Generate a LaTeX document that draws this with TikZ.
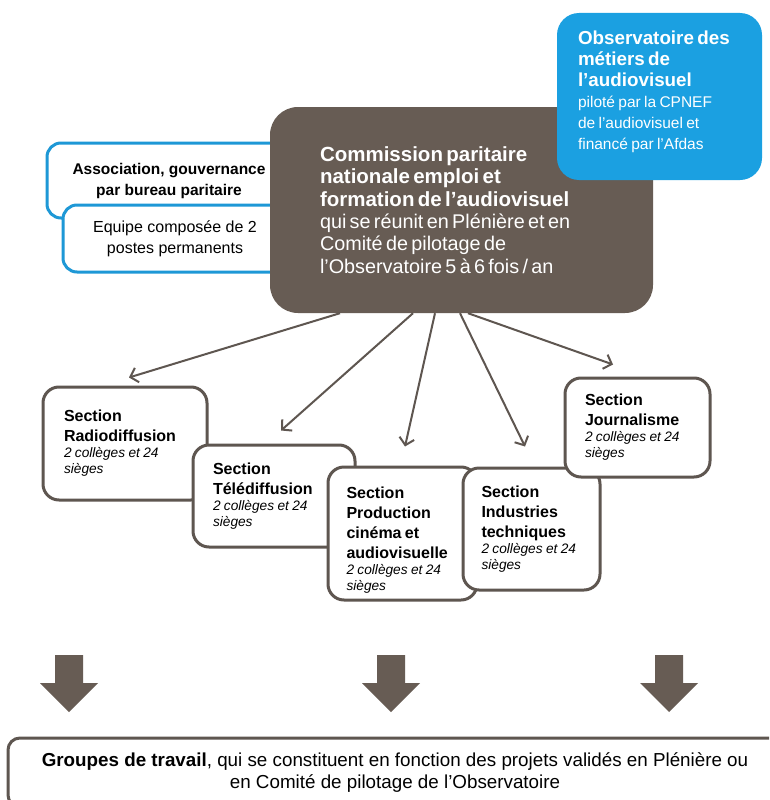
\documentclass[tikz,border=0pt]{standalone}
\usepackage{fontspec}
\setmainfont{Liberation Sans}
\usetikzlibrary{positioning, shapes, arrows.meta}

\definecolor{cpbrown}{HTML}{675C54}
\definecolor{obsblue}{HTML}{1BA0E1}
\definecolor{lineblue}{HTML}{1E98D6}
\definecolor{secgray}{HTML}{5E5650}

\newcommand{\secname}[1]{{\bfseries\fontsize{16}{20}\selectfont Section\par #1\par}}
\newcommand{\secseats}{{\itshape\fontsize{13.7}{16}\selectfont 2 collèges et 24\par sièges\par}}

\begin{document}
\begin{tikzpicture}[x=1pt, y=-1pt]

\useasboundingbox (0,0) rectangle (769,800);
\clip (0,0) rectangle (769,800);
\fill[white] (0,0) rectangle (769,800);

\tikzstyle{bluebox}=[draw=lineblue, line width=3pt, fill=white, rounded corners=14pt,
align=center, inner sep=0pt];
\tikzstyle{secbox}=[draw=secgray, line width=3pt, fill=white, rounded corners=16pt,
align=left, inner sep=0pt, execute at begin node=\parindent0pt];
\tikzstyle{thinarrow}=[draw=secgray, line width=2pt, -{Straight Barb[length=7pt,width=15pt]}];

% left boxes
\node[bluebox, minimum width=244pt, minimum height=75pt, font=\bfseries\fontsize{15.5}{21}\selectfont] (assoc) at (169,180.5) {Association, gouvernance\\par bureau paritaire};
\node[bluebox, minimum width=224pt, minimum height=67pt, font=\fontsize{16}{21}\selectfont] (equipe) at (175,238.5) {Equipe composée de 2\\postes permanents};

% CPNEF and observatoire
\node[fill=cpbrown, rounded corners=28pt, minimum width=383pt, minimum height=206pt, text width=283pt,
inner sep=0pt, align=left, text=white, execute at begin node=\parindent0pt] (cpnef) at (461.5,210)
{{\bfseries\fontsize{20.5}{22.4}\selectfont Commission paritaire\par nationale emploi et\par formation de l’audiovisuel\par}%
\fontsize{19.8}{22.4}\selectfont qui se réunit en Plénière et en\par Comité de pilotage de\par l'Observatoire 5 à 6 fois / an\par};
\node[fill=obsblue, rounded corners=22pt, minimum width=205pt, minimum height=167pt, text width=163pt,
inner sep=0pt, align=left, text=white, execute at begin node=\parindent0pt] (obs) at (659.5,96.5)
{{\bfseries\fontsize{18.8}{21}\selectfont Observatoire des\par métiers de\par l’audiovisuel\par}%
\fontsize{15.5}{21}\selectfont piloté par la CPNEF\par de l’audiovisuel et\par financé par l’Afdas\par\vspace{9pt}};

% sections
\node[secbox, minimum width=164pt, minimum height=113pt, text width=122pt] (radio) at (125,443.5) {\secname{Radiodiffusion}\secseats};
\node[secbox, minimum width=162pt, minimum height=102pt, text width=122pt] (tele) at (274,496) {\secname{Télédiffusion}\secseats};
\node[secbox, minimum width=149pt, minimum height=133pt, text width=112pt] (prod) at (402.5,533.5) {{\bfseries\fontsize{16}{20}\selectfont \rule{0pt}{25pt}Section\par Production\par cinéma et\par audiovisuelle\par}\secseats};
\node[secbox, minimum width=137pt, minimum height=122pt, text width=100pt] (indus) at (531.5,529) {{\bfseries\fontsize{16}{20}\selectfont Section\par Industries\par techniques\par}\secseats};
\node[secbox, minimum width=145pt, minimum height=99pt, text width=105pt] (journ) at (637.5,427.5) {\secname{Journalisme}\secseats};

% lines
\draw[thinarrow] ([xshift=-121.5pt]cpnef.south) -- ([xshift=4pt,yshift=8pt]radio.north);
\draw[thinarrow] ([xshift=-48.5pt]cpnef.south) -- ([xshift=7pt,yshift=13pt]tele.north);
\draw[thinarrow] ([xshift=-26.5pt]cpnef.south) -- ([xshift=2.5pt,yshift=19pt]prod.north);
\draw[thinarrow] ([xshift=-1.5pt]cpnef.south) -- ([xshift=-6.5pt,yshift=20pt]indus.north);
\draw[thinarrow] ([xshift=6.5pt]cpnef.south) -- ([xshift=-24.5pt,yshift=12pt]journ.north);

% big arrows
\foreach \x in {69,391,669}
  \fill[cpbrown] (\x-14,655) -- (\x+14,655) -- (\x+14,683) -- (\x+29,683) -- (\x,712)
    -- (\x-29,683) -- (\x-14,683) -- cycle;

% groupes de travail
\node[draw=secgray, line width=3pt, fill=white, rounded corners=12pt, minimum width=774pt, minimum height=69pt,
align=center, inner sep=0pt, font=\fontsize{18.8}{22.5}\selectfont] (groupes) at (395,772.5)
{\textbf{Groupes de travail}, qui se constituent en fonction des projets validés en Plénière ou\\en Comité de pilotage de l'Observatoire};

\end{tikzpicture}
\end{document}
